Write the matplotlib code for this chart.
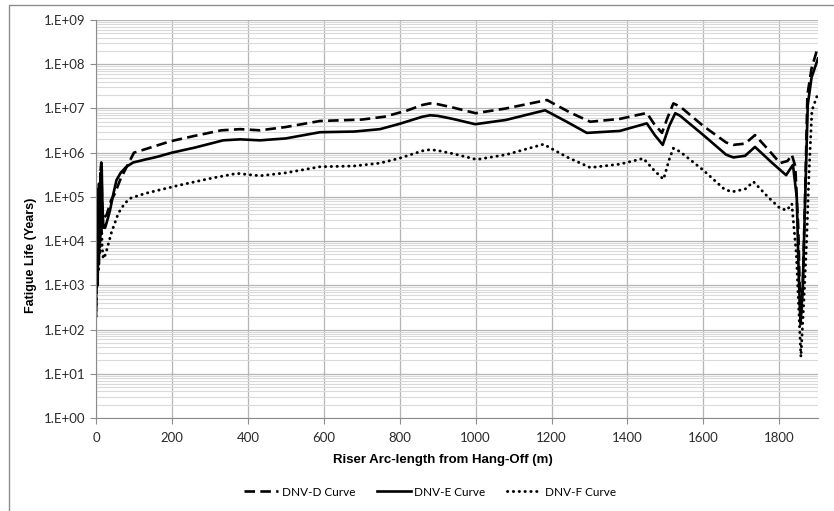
import math

import matplotlib
matplotlib.use("Agg")
import matplotlib.pyplot as plt
from matplotlib.patches import Rectangle
from matplotlib.ticker import FuncFormatter, LogLocator, NullFormatter

# (arc-length in m, fatigue life in years)
x_d = [0, 2, 4, 6, 8, 10, 12, 14, 16, 18, 22, 28, 40, 50, 65, 81, 100, 130, 195, 260,
       330, 380, 432, 500, 590, 700, 760, 820, 860, 880, 900, 940, 1000, 1080, 1188, 1250,
       1302, 1380, 1451, 1470, 1491, 1505, 1521, 1539, 1600, 1660, 1679, 1710, 1736, 1770,
       1802, 1822, 1833, 1842, 1850, 1856, 1862, 1868, 1874, 1885, 1902]
life_d = [3e2, 2e3, 1.5e5, 3e3, 2e5, 8e3, 4e5, 6e5, 8e4, 4e4, 3.5e4, 3.9e4, 8.5e4, 1.2e5,
          2.6e5, 4.8e5, 1.0e6, 1.2e6, 1.8e6, 2.4e6, 3.2e6, 3.4e6, 3.2e6, 3.8e6, 5.2e6,
          5.6e6, 6.5e6, 9e6, 1.2e7, 1.3e7, 1.25e7, 1.05e7, 7.8e6, 1.0e7, 1.55e7, 8e6, 5e6,
          5.8e6, 7.9e6, 4.5e6, 2.8e6, 6e6, 1.3e7, 1.1e7, 4e6, 1.7e6, 1.5e6, 1.6e6, 2.5e6,
          1.2e6, 5.8e5, 6.5e5, 9e5, 5e5, 2e4, 1.5e2, 1e3, 1e5, 2e7, 8e7, 2.5e8]

x_e = [0, 1.5, 3, 4.5, 6, 7.5, 9, 10.5, 12, 13.5, 15, 17, 19, 21, 24, 30, 37, 45, 54, 65,
       80, 98, 130, 160, 200, 260, 335, 380, 432, 500, 590, 680, 748, 800, 860, 880, 900,
       940, 999, 1080, 1183, 1240, 1293, 1380, 1451, 1472, 1493, 1510, 1526, 1539, 1600,
       1660, 1679, 1710, 1736, 1780, 1818, 1836, 1846, 1851, 1856, 1862, 1868, 1875, 1885,
       1902]
life_e = [2e2, 5e3, 1.3e5, 1e3, 1.2e5, 3e3, 8e4, 1e4, 3.5e5, 1.5e4, 5e5, 6e4, 2.5e4, 2e4,
          2e4, 3e4, 5e4, 1.1e5, 2.4e5, 3.5e5, 4.8e5, 6e5, 7e5, 8e5, 1.0e6, 1.3e6, 1.9e6,
          2.0e6, 1.9e6, 2.1e6, 2.9e6, 3.0e6, 3.4e6, 4.5e6, 6.5e6, 7e6, 6.8e6, 5.8e6, 4.4e6,
          5.5e6, 9.1e6, 5e6, 2.8e6, 3.1e6, 4.6e6, 2.5e6, 1.5e6, 4e6, 7.8e6, 6.8e6, 2.5e6,
          9e5, 7.8e5, 8.5e5, 1.35e6, 6e5, 3.1e5, 5.3e5, 1e5, 2e3, 1.3e2, 1e3, 8e4, 1.2e7,
          5e7, 1.35e8]

x_f = [0, 2, 4, 6, 8, 10, 13, 16, 19, 25, 41, 59, 75, 90, 130, 221, 300, 371, 432, 500,
       590, 680, 748, 800, 860, 880, 900, 940, 1003, 1080, 1179, 1240, 1302, 1380, 1442,
       1470, 1495, 1510, 1521, 1539, 1600, 1655, 1675, 1710, 1732, 1770, 1802, 1820, 1833,
       1845, 1857, 1865, 1872, 1878, 1886, 1902]
life_f = [2e2, 1e3, 3e4, 2e3, 8e4, 5e3, 1.2e5, 8e3, 4e3, 5e3, 1.6e4, 4.3e4, 7e4, 9.3e4,
          1.2e5, 1.85e5, 2.6e5, 3.4e5, 3e5, 3.5e5, 4.8e5, 5e5, 5.8e5, 7.5e5, 1.1e6, 1.17e6,
          1.12e6, 9.5e5, 7e5, 9e5, 1.55e6, 8e5, 4.6e5, 5.5e5, 7.4e5, 4e5, 2.5e5, 7e5,
          1.26e6, 1.05e6, 4e5, 1.5e5, 1.3e5, 1.5e5, 2.2e5, 1e5, 5.5e4, 5e4, 7e4, 5e3,
          2.4e1, 5e2, 1e4, 3e5, 9e6, 2.2e7]

labels = ["DNV-D Curve", "DNV-E Curve", "DNV-F Curve"]
x_ticks = list(range(0, 1801, 200))

W, H = 834, 511
fig = plt.figure(figsize=(W / 100, H / 100), dpi=100)
ax = fig.add_axes([96 / W, 1 - 418 / H, (818 - 96) / W, (418 - 20) / H])

# chart frame like the spreadsheet export
fig.patches.append(Rectangle((9 / W, -0.05), 1.0, 1 - 5 / H + 0.05, transform=fig.transFigure,
                             fill=False, edgecolor="#8c8c8c", linewidth=1.0))

lw = 1.9
ax.plot(x_d, life_d, color="black", lw=lw, linestyle=(0, (4, 2)), label=labels[0])
ax.plot(x_e, life_e, color="black", lw=lw, linestyle="-", label=labels[1])
ax.plot(x_f, life_f, color="black", lw=2.1, linestyle=(0, (0.1, 1.9)),
        dash_capstyle="round", label=labels[2])

ax.set_yscale("log")
ax.set_ylim(1, 1e9)
ax.set_xlim(0, 1902)
ax.set_xticks(x_ticks)
ax.yaxis.set_major_locator(LogLocator(base=10, numticks=12))
ax.yaxis.set_minor_locator(LogLocator(base=10, subs=range(2, 10), numticks=12))
ax.yaxis.set_minor_formatter(NullFormatter())
ax.yaxis.set_major_formatter(FuncFormatter(lambda v, p: "1.E+%02d" % round(math.log10(v))))

ax.grid(True, which="major", color="#b5b5b5", lw=0.9)
ax.grid(True, which="minor", axis="y", color="#dadada", lw=0.8)
ax.set_axisbelow(True)

for side in ["top", "right"]:
    ax.spines[side].set_visible(False)
for side in ["left", "bottom"]:
    ax.spines[side].set_color("#8c8c8c")
ax.tick_params(which="major", colors="#8c8c8c", length=4, labelcolor="#2b2b2b", labelsize=9.5)
ax.tick_params(axis="x", pad=6)
ax.tick_params(which="minor", length=0)
for t in ax.get_xticklabels() + ax.get_yticklabels():
    t.set_family("Lato")

fig.text(31 / W, 1 - 255 / H, "Fatigue Life (Years)", rotation=90, ha="center", va="center",
         fontsize=9, fontweight="bold", family="Liberation Sans")
fig.text(443 / W, 1 - 460 / H, "Riser Arc-length from Hang-Off (m)", ha="center", va="center",
         fontsize=9.5, fontweight="bold", family="Liberation Sans")

fig.legend(loc="center", bbox_to_anchor=(430 / W, 1 - 492 / H), ncol=3, frameon=False,
           handlelength=2.9, columnspacing=1.8, handletextpad=0.3,
           prop={"family": "Lato", "size": 8.5})

fig.savefig("out.png", dpi=100, facecolor="white")
